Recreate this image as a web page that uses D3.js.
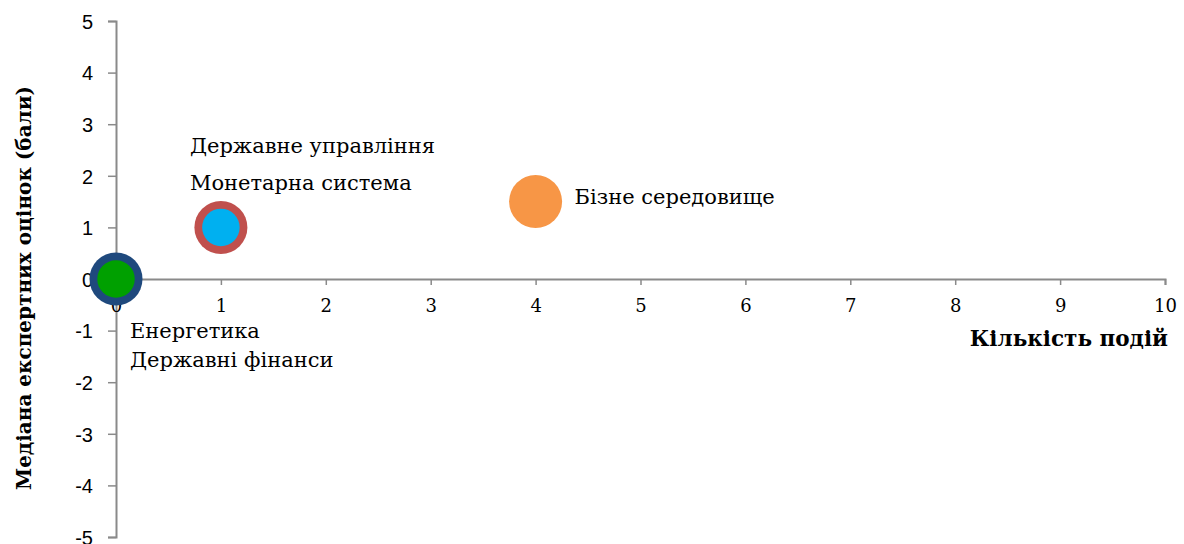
<!DOCTYPE html>
<html><head><meta charset="utf-8">
<script src="https://cdn.jsdelivr.net/npm/d3@7"></script>
<style>body{margin:0;background:#fff}svg{display:block}</style>
</head><body>
<svg id="c" width="1184" height="544"></svg>
<script>
const names = ["Енергетика","Державні фінанси","Державне управління","Монетарна система","Бізне середовище"];
const eventsCount = [0,0,1,1,4];
const medianScore = [0,0,1,1,1.5];
const bubbleSize = [2,1,2,1,2];
const colors = ["#1F497D","#00A000","#C0504D","#00B0F0","#F79646"];
const xTicks = [0,1,2,3,4,5,6,7,8,9,10];
const yTicks = [-5,-4,-3,-2,-1,0,1,2,3,4,5];
const xTitle = "Кількість подій";
const yTitle = "Медіана експертних оцінок (бали)";

const data = names.map((n,i)=>({name:n,x:eventsCount[i],y:medianScore[i],s:bubbleSize[i],c:colors[i]}));
const labelPos = {
  "Енергетика":[14,59],
  "Державні фінанси":[14,88],
  "Державне управління":[-31,-74],
  "Монетарна система":[-31,-37],
  "Бізне середовище":[39,2]
};

const serif = "'DejaVu Serif', 'Liberation Serif', serif";
const svg = d3.select("#c");
const x = d3.scaleLinear().domain([0,10]).range([116,1165]);
const y = d3.scaleLinear().domain([-5,5]).range([537,21]);
const r = d3.scaleSqrt().domain([0,2]).range([0,26.5]);
const axisColor = "#8a8a8a";

const ya = svg.append("g").attr("transform",`translate(${x(0)},0)`)
  .call(d3.axisLeft(y).tickValues(yTicks).tickSize(8).tickPadding(15).tickFormat(d3.format("d")));
ya.select(".domain").attr("stroke",axisColor).attr("stroke-width",2);
ya.selectAll(".tick line").attr("stroke",axisColor).attr("stroke-width",1.5);
ya.selectAll(".tick text").attr("font-family","'Liberation Sans', Arial, sans-serif").attr("font-size",20).attr("fill","#000")
  .attr("dy","0.36em").text(d=>d<0?"-"+Math.abs(d):d);

const xa = svg.append("g").attr("transform",`translate(0,${y(0)})`)
  .call(d3.axisBottom(x).tickValues(xTicks).tickSize(6).tickPadding(14).tickFormat(d3.format("d")));
xa.select(".domain").attr("stroke",axisColor).attr("stroke-width",2);
xa.selectAll(".tick line").attr("stroke",axisColor).attr("stroke-width",1.5);
xa.selectAll(".tick text").attr("font-family",serif).attr("font-size",18).attr("fill","#000");

const sorted = data.slice().sort((a,b)=>b.s-a.s);
svg.append("g").selectAll("circle").data(sorted).join("circle")
  .attr("cx",d=>x(d.x)).attr("cy",d=>y(d.y)).attr("r",d=>r(d.s)).attr("fill",d=>d.c);

svg.append("g").selectAll("text").data(data).join("text")
  .attr("x",d=>x(d.x)+labelPos[d.name][0])
  .attr("y",d=>y(d.y)+labelPos[d.name][1])
  .attr("font-family",serif)
  .attr("font-size",21).attr("fill","#000")
  .text(d=>d.name);

svg.append("text").attr("x",1168).attr("y",346).attr("text-anchor","end")
  .attr("font-family",serif).attr("font-weight","bold").attr("font-size",21.5)
  .text(xTitle);
svg.append("text").attr("transform","translate(31,288) rotate(-90)").attr("text-anchor","middle")
  .attr("font-family",serif).attr("font-weight","bold").attr("font-size",20)
  .text(yTitle);
</script>
</body></html>
